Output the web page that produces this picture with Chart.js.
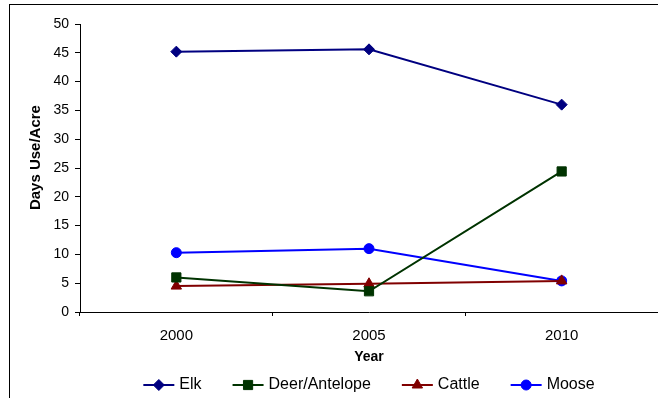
<!DOCTYPE html>
<html lang="en">
<head>
    <meta charset="UTF-8">
    <script src="https://cdn.jsdelivr.net/npm/chart.js"></script>
    <title>Days Use/Acre by Year</title>
    <style>
        html, body {
            margin: 0;
            padding: 0;
            background: #fff;
        }

        #chart_container {
            width: 658px;
            height: 398px;
        }
    </style>
</head>
<body>
    <div id="chart_container">
        <canvas id="use_chart" width="658" height="398"></canvas>
    </div>

    <script>
        // Survey years and days use per acre for each animal
        const years = ['2000', '2005', '2010'];
        const elk = [45.2, 45.6, 36.0];
        const deerAntelope = [6.0, 3.6, 24.4];
        const cattle = [4.5, 4.9, 5.4];
        const moose = [10.3, 11.0, 5.4];

        // Value axis range
        const yMin = 0, yMax = 50, yStep = 5;

        const FONT = '"Liberation Sans", Arial, sans-serif';
        Chart.defaults.font.family = FONT;
        Chart.defaults.color = '#000';

        function series(label, values, color, pointStyle, radius) {
            return {
                label: label,
                data: values,
                borderColor: color,
                backgroundColor: color,
                borderWidth: 2,
                pointStyle: pointStyle,
                pointRadius: radius,
                pointHoverRadius: radius,
                pointBackgroundColor: color,
                pointBorderColor: color,
                pointBorderWidth: 1,
                tension: 0
            };
        }

        // White page with the thin outer frame (left and top edges)
        const frame = {
            id: 'frame',
            beforeDraw(chart) {
                const ctx = chart.ctx;
                ctx.save();
                ctx.fillStyle = '#fff';
                ctx.fillRect(0, 0, chart.width, chart.height);
                ctx.fillStyle = '#000';
                ctx.fillRect(9, 4, 1, chart.height - 4);
                ctx.fillRect(9, 4, chart.width - 9, 1);
                ctx.restore();
            }
        };

        // Legend with a short line through each marker
        const lineLegend = {
            id: 'lineLegend',
            afterDraw(chart, args, opts) {
                const ctx = chart.ctx;
                const area = chart.chartArea;
                ctx.save();
                ctx.font = opts.font;
                const items = chart.data.datasets.map(ds => ({ ds: ds, w: ctx.measureText(ds.label).width }));
                let total = opts.itemGap * (items.length - 1);
                items.forEach(it => { total += opts.lineLength + opts.textGap + it.w; });
                let x = (area.left + area.right) / 2 - total / 2;
                const y = opts.y;
                items.forEach(({ ds, w }) => {
                    ctx.strokeStyle = ds.borderColor;
                    ctx.lineWidth = ds.borderWidth;
                    ctx.beginPath();
                    ctx.moveTo(x, y);
                    ctx.lineTo(x + opts.lineLength, y);
                    ctx.stroke();

                    ctx.fillStyle = ds.pointBackgroundColor;
                    ctx.strokeStyle = ds.pointBorderColor;
                    ctx.lineWidth = ds.pointBorderWidth;
                    Chart.helpers.drawPoint(ctx, {
                        pointStyle: ds.pointStyle,
                        radius: ds.pointRadius,
                        borderWidth: ds.pointBorderWidth,
                        rotation: 0
                    }, x + opts.lineLength / 2, y);

                    ctx.fillStyle = '#000';
                    ctx.textAlign = 'left';
                    ctx.textBaseline = 'middle';
                    ctx.fillText(ds.label, x + opts.lineLength + opts.textGap, y);
                    x += opts.lineLength + opts.textGap + w + opts.itemGap;
                });
                ctx.restore();
            }
        };

        const ctx = document.getElementById('use_chart').getContext('2d');
        const chart = new Chart(ctx, {
            type: 'line',
            data: {
                labels: years,
                datasets: [
                    series('Elk', elk, '#000080', 'rectRot', 5.5),
                    series('Deer/Antelope', deerAntelope, '#003300', 'rect', 6.5),
                    series('Cattle', cattle, '#800000', 'triangle', 6),
                    series('Moose', moose, '#0000ff', 'circle', 5)
                ]
            },
            options: {
                responsive: false,
                devicePixelRatio: 1,
                animation: false,
                layout: {
                    // plot runs right up to the canvas edge, no room kept for markers
                    autoPadding: false,
                    padding: { left: 10, right: 0, top: 24, bottom: 32 }
                },
                scales: {
                    x: {
                        offset: true,
                        ticks: { font: { size: 15 }, padding: 11, color: '#000' },
                        grid: { offset: true, drawOnChartArea: false, tickLength: 4, color: '#000' },
                        border: { color: '#000' },
                        title: {
                            display: true,
                            text: 'Year',
                            font: { size: 14, weight: 'bold' },
                            padding: { top: 0, bottom: 0 }
                        },
                        afterFit: s => { s.height = 54; }
                    },
                    y: {
                        min: yMin,
                        max: yMax,
                        ticks: { stepSize: yStep, font: { size: 14 }, padding: 6, color: '#000' },
                        grid: { drawOnChartArea: false, tickLength: 5, color: '#000' },
                        border: { color: '#000' },
                        title: {
                            display: true,
                            // leading spaces lift the rotated title a little above the axis middle
                            text: '     Days Use/Acre',
                            font: { size: 15, weight: 'bold' },
                            padding: { top: 17, bottom: 0 }
                        },
                        afterFit: s => { s.width = 70; }
                    }
                },
                plugins: {
                    legend: { display: false },
                    tooltip: { enabled: false },
                    lineLegend: {
                        font: '16px ' + FONT,
                        y: 385,
                        lineLength: 31,
                        textGap: 5,
                        itemGap: 31
                    }
                }
            },
            plugins: [frame, lineLegend]
        });
    </script>
</body>
</html>
